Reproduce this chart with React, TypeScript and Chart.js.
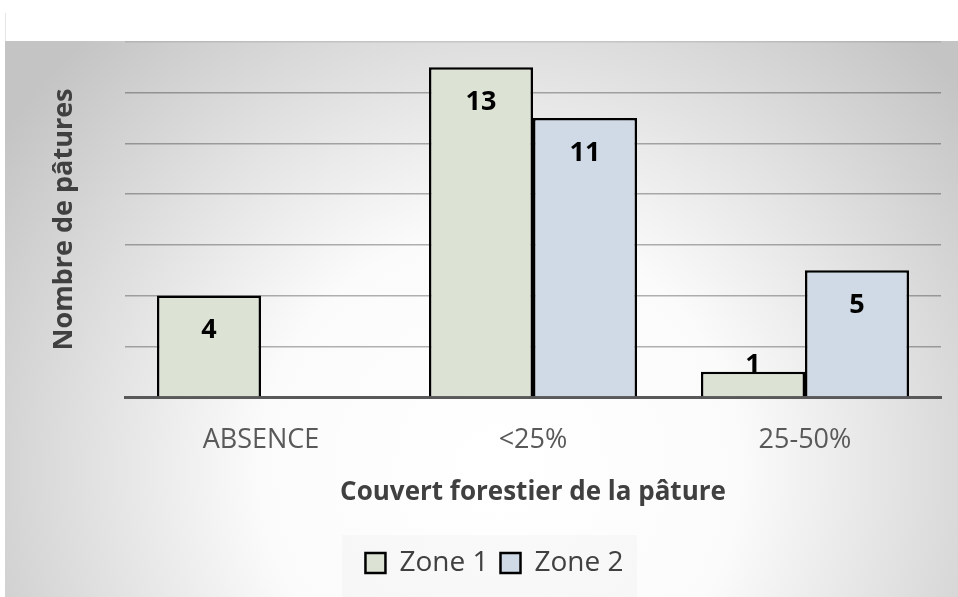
import React, { useEffect, useRef } from 'react';
import { Chart, registerables } from 'chart.js';

Chart.register(...registerables);

const categories = ['ABSENCE', '<25%', '25-50%'];
const seriesNames = ['Zone 1', 'Zone 2'];
const zone1 = [4, 13, 1];
const zone2: (number | null)[] = [null, 11, 5];
const yMin = 0;
const yMax = 14;
const yStep = 2;

const FONT = '"Open Sans", "Noto Sans", sans-serif';

const bgPlugin = {
  id: 'bg',
  beforeDraw(chart: any) {
    const { ctx, width, height } = chart;
    ctx.save();
    ctx.fillStyle = '#ffffff';
    ctx.fillRect(0, 0, width, height);
    const g = ctx.createRadialGradient(500, 470, 0, 500, 470, 600);
    g.addColorStop(0, '#ffffff');
    g.addColorStop(0.4, '#fbfbfb');
    g.addColorStop(1, '#c4c4c4');
    ctx.fillStyle = g;
    ctx.fillRect(5, 41, width - 5, height - 41);
    ctx.fillStyle = 'rgba(0,0,0,0.018)';
    ctx.fillRect(342, 535, 295, 62);
    ctx.strokeStyle = '#e6e6e6';
    ctx.lineWidth = 1;
    ctx.beginPath();
    ctx.moveTo(5.5, 13);
    ctx.lineTo(5.5, 41);
    ctx.stroke();
    ctx.restore();
  },
};

const labelPlugin = {
  id: 'barLabels',
  afterDatasetsDraw(chart: any) {
    const { ctx } = chart;
    ctx.save();
    ctx.font = `bold 27px ${FONT}`;
    ctx.fillStyle = '#000000';
    ctx.textAlign = 'center';
    ctx.textBaseline = 'middle';
    chart.data.datasets.forEach((ds: any, i: number) => {
      const meta = chart.getDatasetMeta(i);
      meta.data.forEach((bar: any, j: number) => {
        const v = ds.data[j];
        if (v === null || v === undefined) return;
        const y = Math.min(bar.y + 35, bar.base - 31);
        ctx.fillText(String(v), bar.x, y);
      });
    });
    ctx.restore();
  },
};

export default function App() {
  const ref = useRef<HTMLCanvasElement>(null);
  useEffect(() => {
    if (!ref.current) return;
    const chart = new Chart(ref.current, {
      type: 'bar',
      data: {
        labels: categories,
        datasets: [
          {
            label: seriesNames[0],
            data: zone1,
            backgroundColor: '#dce2d4',
            borderColor: '#000000',
            borderWidth: 2.5,
            categoryPercentage: 0.765,
            barPercentage: 1,
          },
          {
            label: seriesNames[1],
            data: zone2,
            backgroundColor: '#d0dae6',
            borderColor: '#000000',
            borderWidth: 2.5,
            categoryPercentage: 0.765,
            barPercentage: 1,
          },
        ],
      },
      options: {
        animation: false,
        responsive: false,
        maintainAspectRatio: false,
        layout: { padding: { top: 42, right: 17, left: 48, bottom: 10 } },
        plugins: {
          tooltip: { enabled: false },
          legend: {
            position: 'bottom',
            labels: {
              font: { family: FONT, size: 28 },
              color: '#404040',
              boxWidth: 20,
              boxHeight: 20,
              padding: 12,
              generateLabels: (c: any) =>
                c.data.datasets.map((ds: any, i: number) => ({
                  text: ds.label,
                  fillStyle: ds.backgroundColor,
                  strokeStyle: '#000000',
                  lineWidth: 2.5,
                  datasetIndex: i,
                  hidden: false,
                  fontColor: '#404040',
                })),
            },
          },
        },
        scales: {
          x: {
            grid: { display: false, drawTicks: false },
            border: { display: true, color: '#595959', width: 3 },
            ticks: {
              font: { family: FONT, size: 27 },
              color: '#595959',
              padding: 27,
            },
            title: {
              display: true,
              text: 'Couvert forestier de la pâture',
              font: { family: FONT, size: 26, weight: 'bold' },
              color: '#404040',
              padding: { top: 0, bottom: 29 },
            },
            afterFit: (s: any) => {
              s.height = 140;
            },
          },
          y: {
            min: yMin,
            max: yMax,
            ticks: { stepSize: yStep, display: false },
            border: { display: false },
            grid: {
              drawTicks: false,
              lineWidth: 1.5,
              color: (c: any) =>
                c.tick.value === 0
                  ? 'rgba(0,0,0,0)'
                  : c.tick.value === yMax
                  ? 'rgba(0,0,0,0.1)'
                  : 'rgba(0,0,0,0.3)',
            },
            title: {
              display: true,
              text: 'Nombre de pâtures',
              font: { family: FONT, size: 27, weight: 'bold' },
              color: '#404040',
              padding: { top: 0, bottom: 0 },
            },
            afterFit: (s: any) => {
              s.width = 77;
            },
          },
        },
      },
      plugins: [bgPlugin, labelPlugin],
    });
    return () => chart.destroy();
  }, []);
  return (
    <div style={{ position: 'fixed', left: 0, top: 0, width: 958, height: 597 }}>
      <canvas ref={ref} width={958} height={597} style={{ display: 'block' }} />
    </div>
  );
}
